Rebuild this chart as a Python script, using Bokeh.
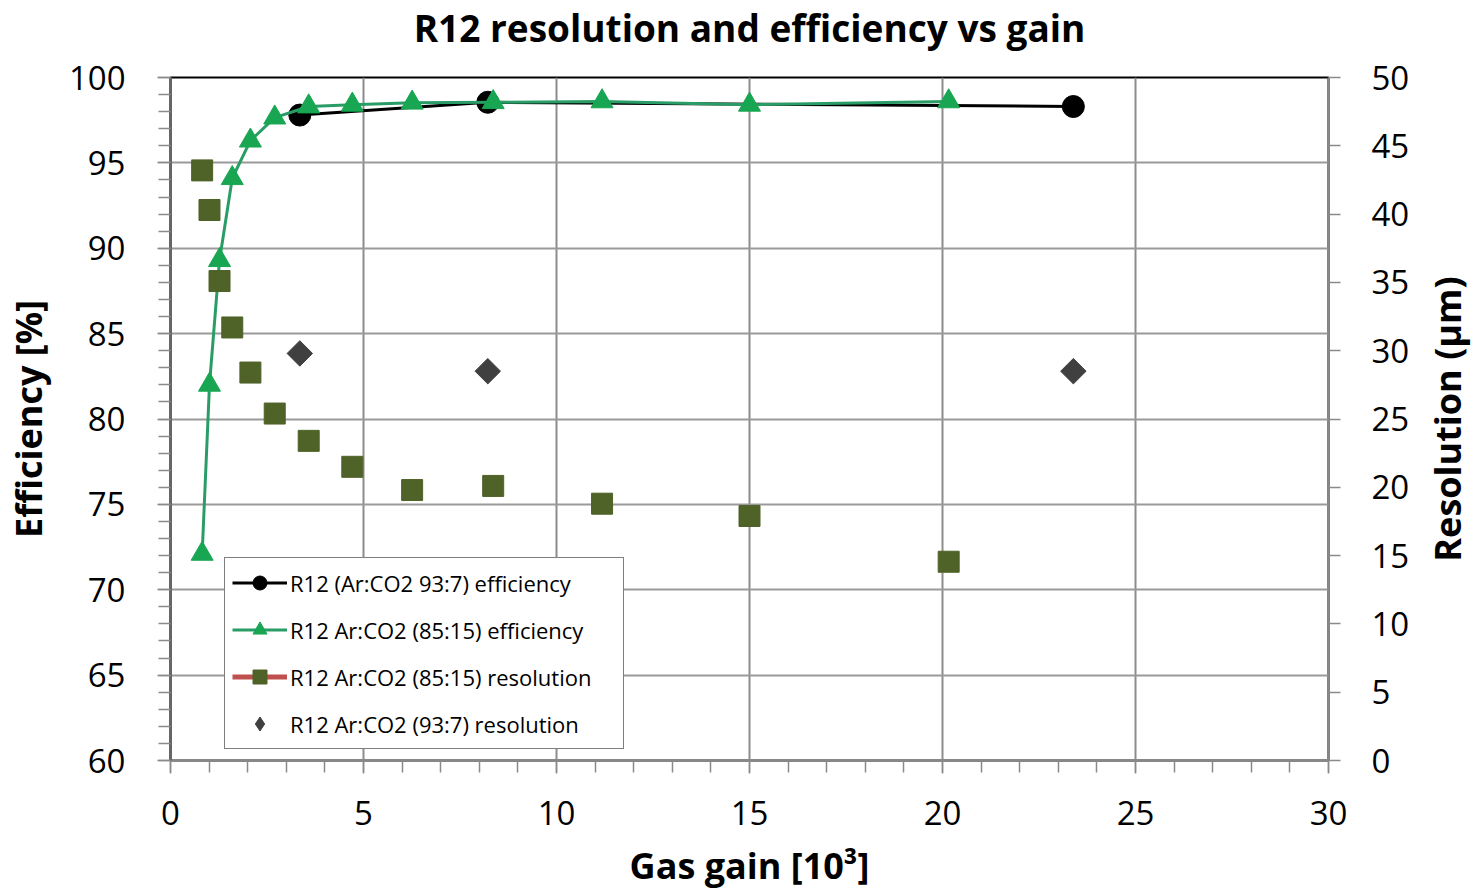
import numpy as np
from bokeh.plotting import figure
from bokeh.models import (Range1d, LinearAxis, SingleIntervalTicker, Legend, LegendItem, Label)
from bokeh.embed import file_html
from bokeh.resources import INLINE

# ---- data ----
gain_937 = [3.35, 8.22, 23.39]
eff_937 = [97.8, 98.55, 98.3]
res_937 = [29.8, 28.5, 28.5]

gain_8515 = [0.82, 1.01, 1.27, 1.60, 2.07, 2.70, 3.58, 4.71, 6.26, 8.36, 11.18, 15.0, 20.16]
eff_8515 = [72.1, 82.0, 89.3, 94.1, 96.3, 97.65, 98.3, 98.4, 98.52, 98.55, 98.6, 98.4, 98.6]
res_8515 = [43.2, 40.3, 35.1, 31.7, 28.4, 25.4, 23.4, 21.5, 19.8, 20.1, 18.8, 17.9, 14.55]

title_text = "R12 resolution and efficiency vs gain"
xlabel = "Gas gain [10³]"
ylabel_left = "Efficiency [%]"
ylabel_right = "Resolution (µm)"
legend_labels = ["R12 (Ar:CO2 93:7) efficiency",
                 "R12 Ar:CO2 (85:15) efficiency",
                 "R12 Ar:CO2 (85:15) resolution",
                 "R12 Ar:CO2 (93:7) resolution"]

FONT = "Open Sans"
FW, FH = 1158, 683

p = figure(frame_width=FW, frame_height=FH, output_backend="svg", toolbar_location=None,
           x_range=Range1d(0, 30), y_range=Range1d(60, 100),
           min_border_left=170, min_border_right=150, min_border_top=77, min_border_bottom=135,
           title=title_text + "\n")
p.extra_y_ranges = {"res": Range1d(0, 50)}

p.title.text_font = FONT
p.title.text_font_size = "37px"
p.title.text_font_style = "bold"
p.title.align = "center"
p.title.vertical_align = "top"
p.title.standoff = 0
p.title.text_line_height = 0.46
p.title.text_color = "black"

p.outline_line_color = "black"
p.outline_line_width = 2

# axes
p.xaxis.ticker = SingleIntervalTicker(interval=5, num_minor_ticks=5)
p.yaxis.ticker = SingleIntervalTicker(interval=5, num_minor_ticks=5)
for ax in (p.xaxis[0], p.yaxis[0]):
    ax.major_label_text_font = FONT
    ax.major_label_text_font_size = "33px"
    ax.major_label_text_color = "black"
    ax.axis_label_text_font = FONT
    ax.axis_label_text_font_style = "bold"
    ax.axis_label_text_font_size = "36px"
    ax.axis_label_text_color = "black"
    ax.major_tick_in = 0
    ax.minor_tick_in = 0
    ax.major_tick_out = 13
    ax.minor_tick_out = 12
    ax.major_tick_line_color = "#8a8a8a"
    ax.minor_tick_line_color = "#8a8a8a"
    ax.major_tick_line_width = 1.5
    ax.minor_tick_line_width = 1.5
p.xaxis.axis_label = xlabel
p.yaxis.axis_label = ylabel_left
p.xaxis.axis_line_color = "#888888"
p.xaxis.axis_line_width = 3
p.yaxis.axis_line_color = "#666666"
p.yaxis.axis_line_width = 3
p.xaxis.major_label_standoff = 27
p.yaxis.major_label_standoff = 32
p.xaxis.axis_label_standoff = 13
p.yaxis.axis_label_standoff = 13

ax_r = LinearAxis(y_range_name="res", ticker=SingleIntervalTicker(interval=5))
ax_r.major_label_text_font = FONT
ax_r.major_label_text_font_size = "33px"
ax_r.major_label_text_color = "black"
ax_r.major_tick_in = 0
ax_r.major_tick_out = 12
ax_r.major_tick_line_color = "#8a8a8a"
ax_r.major_tick_line_width = 1.5
ax_r.minor_tick_line_color = None
ax_r.axis_line_color = "#888888"
ax_r.axis_line_width = 2
ax_r.major_label_standoff = 31
p.add_layout(ax_r, "right")

# right axis title, reading bottom-to-top, placed in the right side panel
p.add_layout(Label(x=35, y=FH / 2, x_units="screen", y_units="screen",
                   text=ylabel_right, angle=np.pi / 2, text_align="center",
                   text_baseline="middle", text_font=FONT, text_font_size="36px",
                   text_font_style="bold", text_color="black"), "right")

# grid
p.xgrid.grid_line_color = "#8c8c8c"
p.xgrid.grid_line_width = 2
p.ygrid.grid_line_color = "#9a9a9a"
p.ygrid.grid_line_width = 2

# glyphs
l1 = p.line(gain_937, eff_937, line_color="black", line_width=3)
s1 = p.scatter(gain_937, eff_937, marker="circle", size=22, fill_color="black", line_color="black")

l2 = p.line(gain_8515, eff_8515, line_color="#2a9d66", line_width=3)
s2 = p.scatter(gain_8515, eff_8515, marker="triangle", size=22, fill_color="#18a653",
               line_color="#18a653")

# resolution series: markers only in the plot; the legend key shows a red line as in the original
l3 = p.line(gain_8515, res_8515, line_color="#c0504d", line_width=5, y_range_name="res",
            visible=False)
s3 = p.scatter(gain_8515, res_8515, marker="square", size=21, fill_color="#4f6228",
               line_color="#4f6228", y_range_name="res")

s4 = p.scatter(gain_937, res_937, marker="square", angle=np.pi / 4, size=18,
               fill_color="#404040", line_color="#404040", y_range_name="res")
s4_key = p.scatter(gain_937, res_937, marker="diamond", size=18,
                   fill_color="#404040", line_color="#404040", y_range_name="res",
                   visible=False)

legend = Legend(items=[
    LegendItem(label=legend_labels[0], renderers=[l1, s1]),
    LegendItem(label=legend_labels[1], renderers=[l2, s2]),
    LegendItem(label=legend_labels[2], renderers=[l3, s3]),
    LegendItem(label=legend_labels[3], renderers=[s4_key]),
], location=(54, 11))
legend.label_text_font = FONT
legend.label_text_font_size = "22px"
legend.label_text_color = "black"
legend.glyph_width = 55
legend.glyph_height = 35
legend.label_height = 35
legend.label_width = 326
legend.label_standoff = 3
legend.spacing = 12
legend.padding = 7
legend.margin = 0
legend.border_line_color = "black"
legend.border_line_width = 1
legend.background_fill_alpha = 1
p.add_layout(legend)

open("out.html", "w").write(file_html(p, INLINE))
